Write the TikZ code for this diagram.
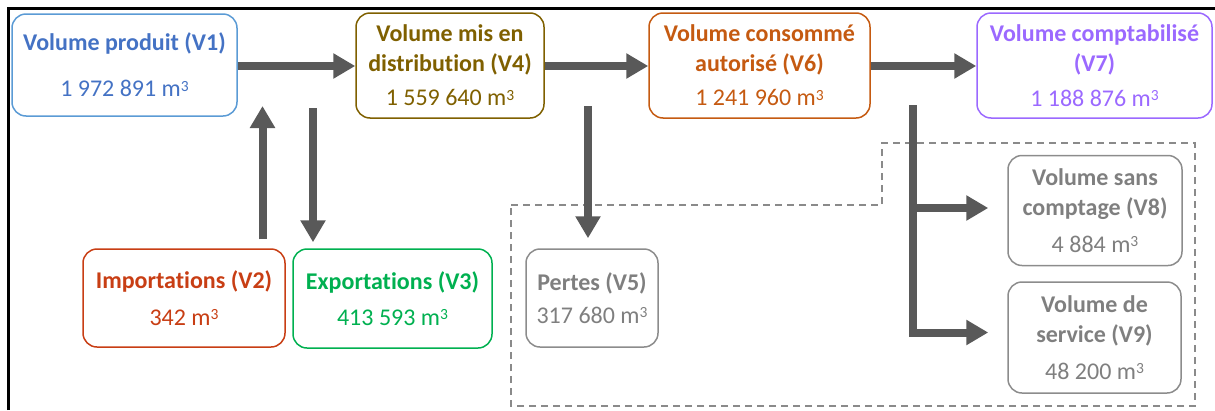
\documentclass[tikz,border=0pt]{standalone}
\usepackage{fontspec}
\setmainfont{Carlito}[Ligatures=NoCommon]
\usetikzlibrary{arrows.meta,calc}
\newcommand{\mcube}{m\raisebox{5.5pt}{\fontsize{15.5}{15}\selectfont 3}}
\definecolor{cblue}{HTML}{4472C4}
\definecolor{cblueb}{HTML}{5B9BD5}
\definecolor{colive}{HTML}{7F6000}
\definecolor{corange}{HTML}{C55A11}
\definecolor{cpurple}{RGB}{155,105,255}
\definecolor{cred}{RGB}{200,62,20}
\definecolor{cgreen}{HTML}{00B050}
\definecolor{cgray}{HTML}{7F7F7F}
\definecolor{cgrayb}{HTML}{8C8C8C}
\definecolor{arrowgray}{HTML}{595959}
\definecolor{dashgray}{HTML}{8A8A8A}
\begin{document}
\begin{tikzpicture}[x=1pt,y=-1pt,
  box/.style={draw=#1, text=#1, rounded corners=14pt, line width=1.5pt, align=center,
    inner sep=0pt, font=\fontsize{24}{30}\selectfont},
  arr/.style={draw=arrowgray, line width=8pt, -{Triangle[length=22pt,width=24pt]}},
  bar/.style={draw=arrowgray, line width=8pt},
  dashbox/.style={draw=dashgray, line width=1.8pt, dash pattern=on 7pt off 5pt},
  frameline/.style={draw=black, line width=3pt}]
\useasboundingbox (0,0) rectangle (1215,410);
% frame
\draw[frameline] (8.5,410) -- (8.5,8.5) -- (1215,8.5);
% dashed region
\draw[dashbox] (511,205) -- (882,205) -- (882,143) -- (1195,143) -- (1195,406) -- (511,406) -- cycle;
% boxes
\node[box=cblue, draw=cblueb, minimum width=225pt, minimum height=102pt] (V1) at (124.5,65)
  {\textbf{Volume produit (V1)}\\[16pt]1 972 891 \mcube};
\node[box=colive, minimum width=188pt, minimum height=105pt] (V4) at (450,65.5)
  {\textbf{Volume mis en}\\\textbf{distribution (V4)}\\[4pt]1 559 640 \mcube};
\node[box=corange, minimum width=221pt, minimum height=105pt] (V6) at (759.5,65.5)
  {\textbf{Volume consommé}\\\textbf{autorisé (V6)}\\[4pt]1 241 960 \mcube};
\node[box=cpurple, minimum width=235pt, minimum height=105pt] (V7) at (1094.5,65.5)
  {\textbf{Volume comptabilisé}\\\textbf{(V7)}\\[5pt]1 188 876 \mcube};
\node[box=cred, minimum width=202pt, minimum height=98pt] (V2) at (184,298)
  {\textbf{Importations (V2)}\\[7pt]342 \mcube};
\node[box=cgreen, minimum width=199pt, minimum height=99pt] (V3) at (392.5,298.5)
  {\textbf{Exportations (V3)}\\[6pt]413 593 \mcube};
\node[box=cgray, draw=cgrayb, minimum width=132pt, minimum height=98pt] (V5) at (592,298)
  {\textbf{Pertes (V5)}\\[3pt]317 680 \mcube};
\node[box=cgray, draw=cgrayb, minimum width=174pt, minimum height=110pt] (V8) at (1095,210.5)
  {\textbf{Volume sans}\\\textbf{comptage (V8)}\\[7pt]4 884 \mcube};
\node[box=cgray, draw=cgrayb, minimum width=173pt, minimum height=111pt] (V9) at (1094.5,337.5)
  {\textbf{Volume de}\\\textbf{service (V9)}\\[7pt]48 200 \mcube};
% free ends
\coordinate (impTop) at (262.5,106);
\coordinate (expTop) at (313,108);
\coordinate (pertTop) at (588,106);
\coordinate (brTop) at (913,105);
\coordinate (brBot) at (913,337);
\coordinate (br8) at (913,208);
\coordinate (br9) at (913,332.5);
% main flow
\draw[arr] (V1.east |- 0,66) -- (V4.west |- 0,66);
\draw[arr] (V4.east |- 0,66) -- (V6.west |- 0,66);
\draw[arr] (V6.east |- 0,66) -- (V7.west |- 0,66);
% imports / exports
\draw[arr, shorten <=9pt] (impTop |- V2.north) -- (impTop);
\draw[arr, shorten >=6pt] (expTop) -- (expTop |- V3.north);
% losses
\draw[arr, shorten >=10pt] (pertTop) -- (pertTop |- V5.north);
% branch
\draw[bar] (brTop) -- (brBot);
\draw[arr, shorten >=19pt] (br8) -- (br8 -| V8.west);
\draw[arr, shorten >=19pt] (br9) -- (br9 -| V9.west);
\end{tikzpicture}
\end{document}
